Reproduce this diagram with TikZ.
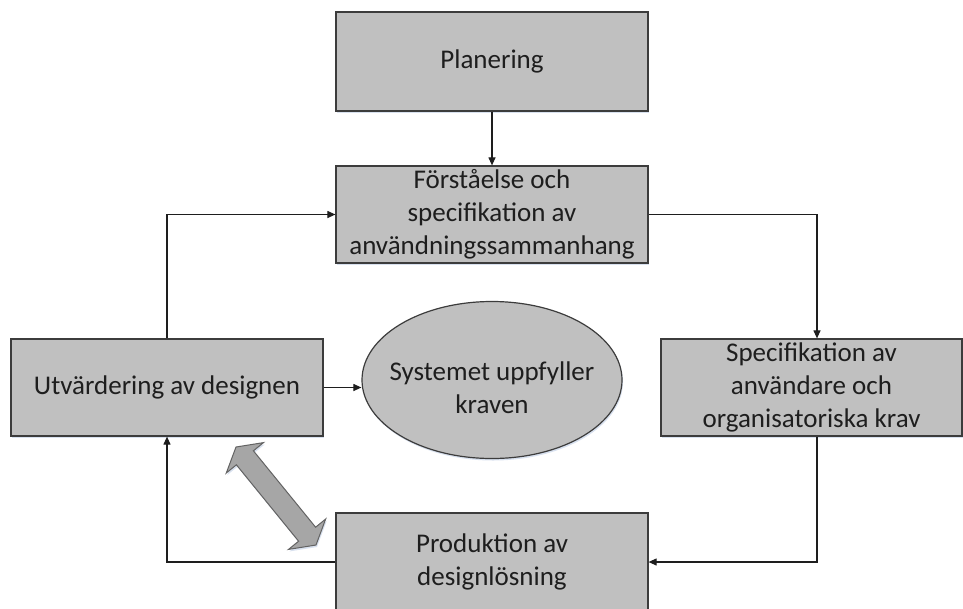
\documentclass[tikz,border=0pt]{standalone}
\usepackage{fontspec}
\setmainfont{Carlito}
\usetikzlibrary{arrows.meta,shapes.geometric,shadows}

\definecolor{boxfill}{HTML}{C0C0C0}
\definecolor{boxline}{HTML}{3C3C3C}
\definecolor{bigarrow}{HTML}{A6A6A6}
\definecolor{softshadow}{HTML}{C8D4E8}
\definecolor{ink}{HTML}{1E1E1E}

\begin{document}
\begin{tikzpicture}[x=1pt,y=-1pt,
  stagebox/.style={rectangle, draw=boxline, fill=boxfill, line width=1.2pt,
    inner sep=0pt, align=center, text=ink,
    font=\fontsize{27}{33}\selectfont,
    drop shadow={shadow xshift=1pt, shadow yshift=-2pt, fill=softshadow, opacity=0.7}},
  goalshape/.style={ellipse, draw=boxline, fill=boxfill, line width=1.2pt, inner sep=0pt,
    drop shadow={shadow xshift=1pt, shadow yshift=-2pt, fill=softshadow, opacity=0.7}},
  flow/.style={draw=ink, line width=1.1pt, -{Triangle[length=8pt,width=7pt]}}
]
\useasboundingbox (0,0) rectangle (963,608);
\clip (0,0) rectangle (963,608);

% process stages
\node[stagebox, minimum width=312pt, minimum height=99pt] (plan) at (492,61.5) {Planering};
\node[stagebox, minimum width=312pt, minimum height=97pt] (fors) at (492,214.5)
  {Förståelse och\\specifikation av\\användningssammanhang};
\node[stagebox, minimum width=301pt, minimum height=97pt] (spec) at (811.5,387.5)
  {Specifikation av\\användare och\\organisatoriska krav};
\node[stagebox, minimum width=312pt, minimum height=98pt] (prod) at (492,562)
  {Produktion av\\designlösning};
\node[stagebox, minimum width=312pt, minimum height=97pt] (utv) at (167,387.5)
  {Utvärdering av designen};

% goal in the middle of the cycle
\node[goalshape, minimum width=260pt, minimum height=157pt,
  label={[align=center, text=ink, font=\fontsize{27}{33}\selectfont, yshift=-8pt]center:Systemet uppfyller\\kraven}]
  (sys) at (492,380) {};

% cycle connectors
\draw[flow] (plan) -- (fors);
\draw[flow] (fors.east) -| ([xshift=5.5pt]spec.north);
\draw[flow] ([xshift=5.5pt]spec.south) |- (prod.east);
\draw[flow] (prod.west) -| (utv.south);
\draw[flow] (utv.north) |- (fors.west);
\draw[flow] (utv.east) -- (utv.east -| sys.west);

% two-way block arrow between evaluation and production
\draw[draw=boxline!80, fill=bigarrow, line width=1pt, line join=miter,
      drop shadow={shadow xshift=1pt, shadow yshift=-2pt, fill=softshadow, opacity=0.7}]
  (236.0,447.0) -- (226.3,473.0) -- (236.4,464.8) -- (298.6,541.2) -- (288.5,549.4)
  -- (316.0,545.0) -- (325.7,519.0) -- (315.6,527.2) -- (253.4,450.8) -- (263.5,442.6) -- cycle;
\end{tikzpicture}
\end{document}
